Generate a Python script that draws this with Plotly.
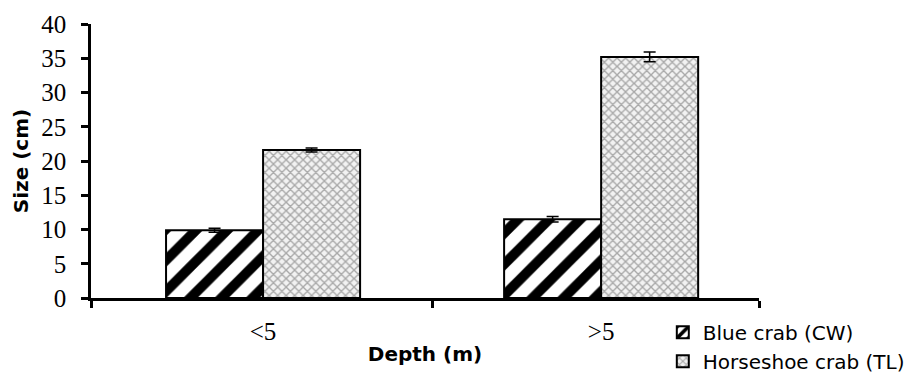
import plotly.graph_objects as go

categories = ["<5", ">5"]
cat_pos = [0, 1]
blue_crab = [9.9, 11.5]
blue_err = [0.3, 0.4]
horseshoe = [21.6, 35.2]
horse_err = [0.3, 0.7]
y_ticks = [0, 5, 10, 15, 20, 25, 30, 35, 40]
x_range = [-0.509, 1.467]
boundary_ticks = [-0.509, 0.5, 1.467]

fig = go.Figure()
fig.add_trace(go.Bar(
    x=cat_pos, y=blue_crab, name="Blue crab (CW)",
    marker=dict(color="white", line=dict(color="black", width=2),
                pattern=dict(shape="/", fgcolor="black", bgcolor="white", fgopacity=1,
                             size=22, solidity=0.45)),
    error_y=dict(type="data", array=blue_err, color="black", thickness=1.5, width=6),
))
fig.add_trace(go.Bar(
    x=cat_pos, y=horseshoe, name="Horseshoe crab (TL)",
    marker=dict(color="white", line=dict(color="black", width=2),
                pattern=dict(shape="x", fgcolor="#a8a8a8", bgcolor="#f2f2f2", fgopacity=1,
                             size=6, solidity=0.4)),
    error_y=dict(type="data", array=horse_err, color="black", thickness=1.5, width=6),
))

fig.update_layout(
    width=910, height=366,
    margin=dict(l=83, r=159, t=16, b=76, autoexpand=False),
    plot_bgcolor="white", paper_bgcolor="white",
    barmode="group", bargap=0.426, bargroupgap=0,
    font=dict(family="Liberation Serif", color="black"),
    legend=dict(x=0.856, y=-0.054, xanchor="left", yanchor="top",
                font=dict(family="DejaVu Sans", size=20, color="black"),
                itemwidth=30, bgcolor="rgba(0,0,0,0)"),
    showlegend=True,
)
fig.update_xaxes(
    type="linear", range=x_range, tickmode="array", tickvals=cat_pos, ticktext=categories,
    showline=True, linecolor="black", linewidth=2.5,
    ticks="", tickfont=dict(family="Liberation Serif", size=25, color="black"),
    ticklabelstandoff=9,
    minor=dict(tickmode="array", tickvals=boundary_ticks, ticks="outside", ticklen=7,
               tickwidth=2.5, tickcolor="black", showgrid=False),
    title=dict(text="<b>Depth (m)</b>", font=dict(family="DejaVu Sans", size=20, color="black"), standoff=4),
    showgrid=False, zeroline=False,
)
fig.update_yaxes(
    range=[0, 40], tickvals=y_ticks, showline=True, linecolor="black", linewidth=2.5,
    ticks="outside", ticklen=7, tickwidth=2.5, tickcolor="black",
    tickfont=dict(family="Liberation Serif", size=25, color="black"),
    ticklabelstandoff=10,
    title=dict(text="<b>Size (cm)</b>", font=dict(family="DejaVu Sans", size=20, color="black"), standoff=8),
    showgrid=False, zeroline=False,
)

fig.write_html("out.html")
